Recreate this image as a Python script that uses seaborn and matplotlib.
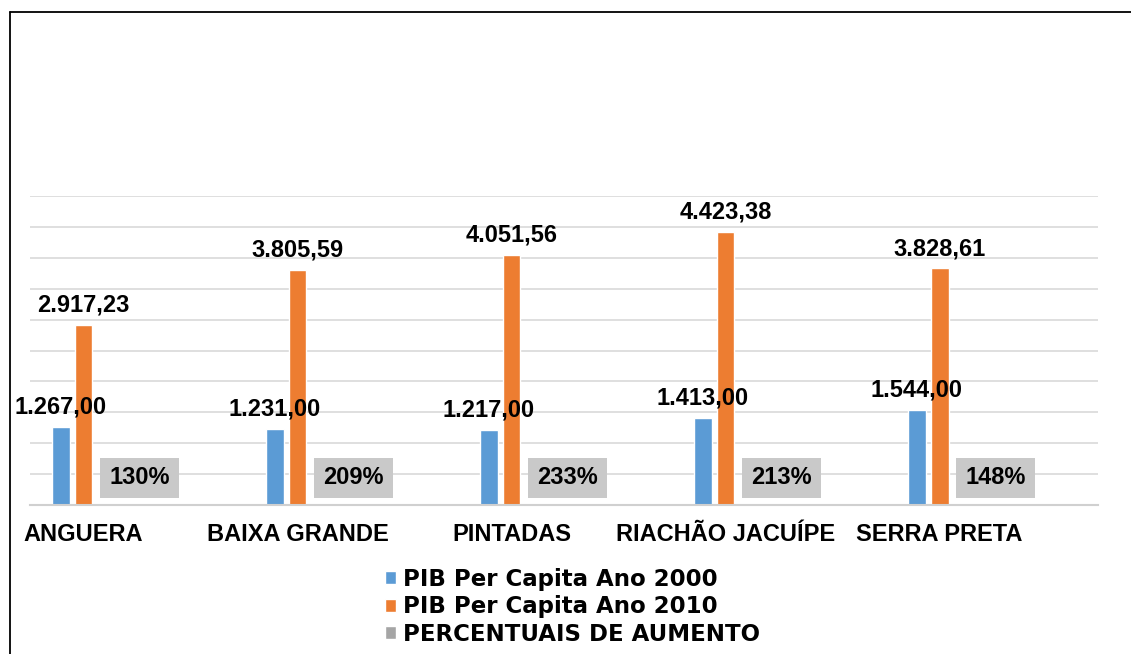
import pandas as pd
import matplotlib
matplotlib.use('Agg')
import matplotlib.pyplot as plt
from matplotlib.lines import Line2D
from matplotlib.ticker import FixedLocator, MultipleLocator
import seaborn as sns

# Chart data
MUNICIPIOS = ['ANGUERA', 'BAIXA GRANDE', 'PINTADAS', 'RIACHÃO JACUÍPE', 'SERRA PRETA']
PIB_2000 = [1267.00, 1231.00, 1217.00, 1413.00, 1544.00]
PIB_2010 = [2917.23, 3805.59, 4051.56, 4423.38, 3828.61]
AUMENTO = [1.30, 2.09, 2.33, 2.13, 1.48]

SERIES = ['PIB Per Capita Ano 2000', 'PIB Per Capita Ano 2010', 'PERCENTUAIS DE AUMENTO']
COLORS = ['#5B9BD5', '#ED7D31', '#A5A5A5']


def fmt_br(v):
    s = f'{v:,.2f}'
    return s.replace(',', 'X').replace('.', ',').replace('X', '.')


df = pd.DataFrame({
    'municipio': MUNICIPIOS * 3,
    'serie': [SERIES[0]] * 5 + [SERIES[1]] * 5 + [SERIES[2]] * 5,
    'valor': PIB_2000 + PIB_2010 + AUMENTO,
})

sns.set_style('white')
plt.rcParams['font.family'] = ['Liberation Sans', 'DejaVu Sans']
plt.rcParams['font.weight'] = 'bold'
plt.rcParams['text.color'] = 'black'
plt.rcParams['xtick.color'] = 'black'

FS = 17

fig = plt.figure(figsize=(11.31, 6.54), dpi=100)
ax = fig.add_axes([30 / 1131, 1 - 505 / 654, 1068 / 1131, 309 / 654])

sns.barplot(data=df, x='municipio', y='valor', hue='serie', order=MUNICIPIOS,
            hue_order=SERIES, palette=COLORS, width=0.32, gap=0.22,
            saturation=1, ax=ax, legend=True)

ax.set_xlim(-0.25, 4.74)
ax.set_ylim(0, 5000)
ax.yaxis.set_major_locator(MultipleLocator(500))
ax.grid(axis='y', color='#d9d9d9', linewidth=1.2)
ax.set_axisbelow(True)
ax.set_yticklabels([])
ax.tick_params(axis='y', length=0)
for side in ['left', 'right', 'top']:
    ax.spines[side].set_visible(False)
ax.spines['bottom'].set_color('#d0d0d0')
ax.spines['bottom'].set_linewidth(1.5)

ax.xaxis.set_minor_locator(FixedLocator([-0.25 + 0.5 * k for k in range(11)]))
ax.tick_params(axis='x', which='minor', length=5, width=1.2, color='#d0d0d0')
ax.tick_params(axis='x', which='major', length=0, pad=13, labelsize=FS, labelcolor='black')
for lbl in ax.get_xticklabels():
    lbl.set_fontweight('bold')
ax.set_xlabel('')
ax.set_ylabel('')

# value labels for the two PIB series
for cont in ax.containers[:2]:
    for bar in cont:
        h = bar.get_height()
        ax.annotate(fmt_br(h), (bar.get_x() + bar.get_width() / 2, h),
                    xytext=(0, 6), textcoords='offset points',
                    ha='center', va='bottom', fontsize=FS, fontweight='bold', color='black')

# percent labels in gray boxes
for bar, pct in zip(ax.containers[2], AUMENTO):
    ax.text(bar.get_x() + bar.get_width() / 2 + 0.155, 437, f'{pct * 100:.0f}%',
            ha='center', va='center', fontsize=FS, fontweight='bold', color='black',
            bbox=dict(boxstyle='square,pad=0.38', facecolor='#c9c9c9', edgecolor='none'))

handles, labels = ax.get_legend_handles_labels()
ax.get_legend().remove()
fig.legend(handles, labels, loc='center left', bbox_to_anchor=(385 / 1131, 1 - 607 / 654),
           frameon=False, handlelength=0.5, handleheight=0.5,
           handletextpad=0.3, labelspacing=0.2, borderpad=0, borderaxespad=0,
           prop={'family': 'DejaVu Sans', 'weight': 'bold', 'size': 16.5})

# outer frame (top and left edges)
fig.add_artist(Line2D([10 / 1131, 10 / 1131], [0, 1 - 12 / 654], color='black', linewidth=1.3,
                      transform=fig.transFigure))
fig.add_artist(Line2D([10 / 1131, 1], [1 - 12 / 654, 1 - 12 / 654], color='black', linewidth=1.3,
                      transform=fig.transFigure))

fig.savefig('out.png', dpi=100)
